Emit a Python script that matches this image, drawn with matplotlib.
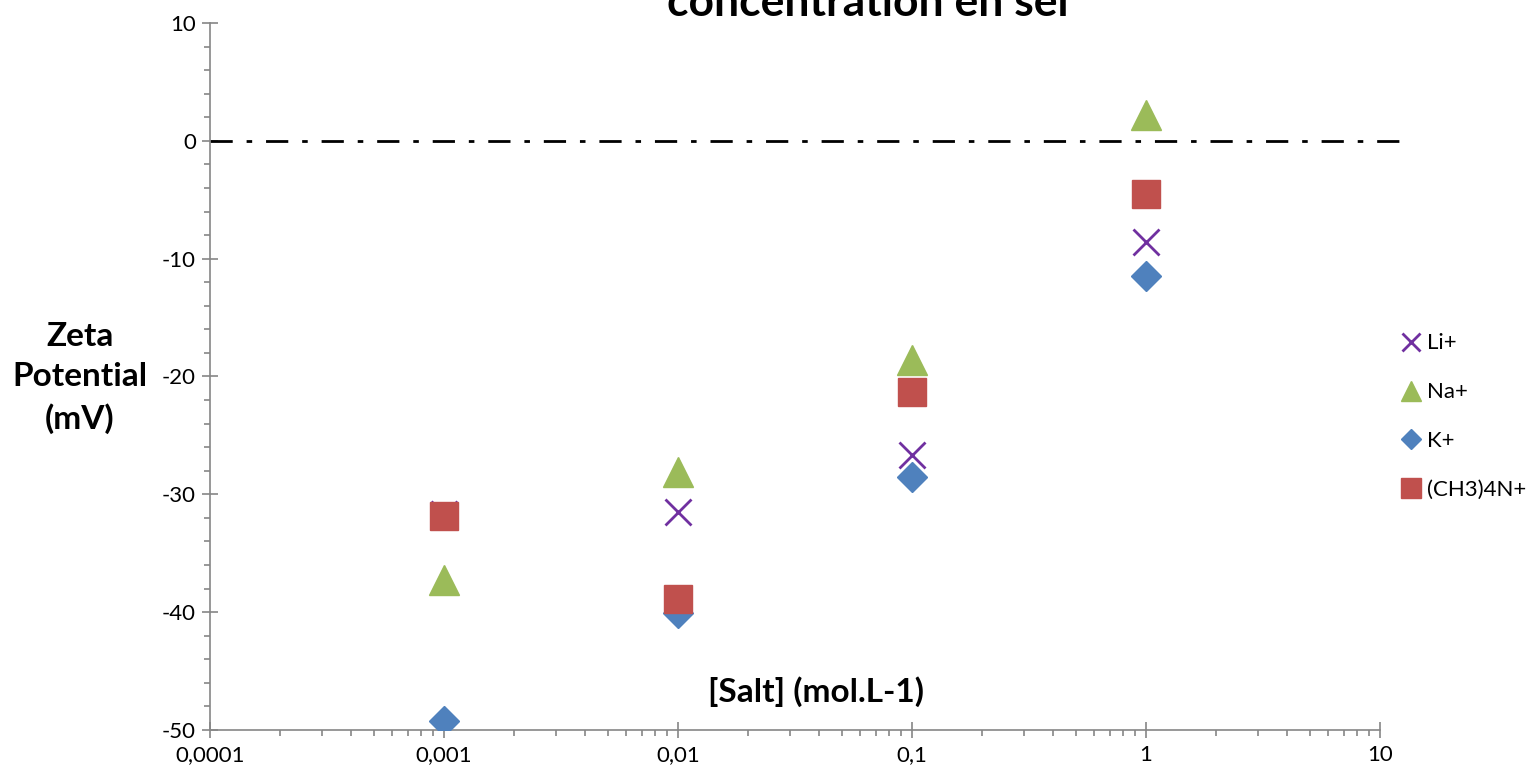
import matplotlib
matplotlib.use('Agg')
import matplotlib.pyplot as plt
from matplotlib.ticker import FixedLocator, LogLocator, NullFormatter, MultipleLocator

plt.rcParams['font.family'] = ['Lato', 'DejaVu Sans']

# salt concentrations (mol/L)
conc = [0.001, 0.01, 0.1, 1]

# zeta potential (mV) per cation
li = [-31.7, -31.5, -26.7, -8.6]
na = [-37.3, -28.1, -18.6, 2.2]
k = [-49.2, -40.1, -28.5, -11.5]
tma = [-31.8, -38.9, -21.3, -4.5]

x_ticks = [0.0001, 0.001, 0.01, 0.1, 1, 10]
x_labels = ['0,0001', '0,001', '0,01', '0,1', '1', '10']
y_ticks = [-50, -40, -30, -20, -10, 0, 10]

fig = plt.figure(figsize=(15.35, 7.75), dpi=100)
ax = fig.add_axes([210 / 1535, 1 - 730 / 775, 1170 / 1535, 707 / 775])

ax.plot(conc, li, 'x', color='#7030A0', markersize=19, markeredgewidth=2, label='Li+', linestyle='none', zorder=3)
ax.plot(conc, na, '^', color='#9BBB59', markersize=21, label='Na+', linestyle='none', zorder=3)
ax.plot(conc, k, 'D', color='#4F81BD', markersize=15, label='K+', linestyle='none', zorder=3)
ax.plot(conc, tma, 's', color='#C0504D', markersize=20, label='(CH3)4N+', linestyle='none', zorder=4)

# zero line
ax.plot([0.0001, 13], [0, 0], color='black', linewidth=2, dashes=(8, 5, 2, 5), clip_on=False, zorder=2)

ax.set_xscale('log')
ax.set_xlim(0.0001, 10)
ax.set_ylim(-50, 10)

ax.xaxis.set_major_locator(FixedLocator(x_ticks))
ax.set_xticklabels(x_labels)
ax.xaxis.set_minor_locator(LogLocator(base=10, subs=range(2, 10)))
ax.xaxis.set_minor_formatter(NullFormatter())
ax.set_yticks(y_ticks)
ax.set_yticklabels([str(v) for v in y_ticks])
ax.yaxis.set_minor_locator(MultipleLocator(2))

for s in ['top', 'right']:
    ax.spines[s].set_visible(False)
for s in ['left', 'bottom']:
    ax.spines[s].set_color('#868686')
    ax.spines[s].set_linewidth(1.2)

ax.tick_params(which='major', direction='inout', length=12, width=1.2, color='#868686', labelsize=16)
ax.tick_params(which='minor', direction='out', length=4.5, width=1.2, color='#868686')
ax.tick_params(axis='x', pad=5)
ax.tick_params(axis='y', pad=4)

ax.text(0.518, 0.055, '[Salt] (mol.L-1)', transform=ax.transAxes, fontsize=24,
        fontweight='bold', ha='center', va='center')
fig.text(80 / 1535, 1 - 378 / 775, 'Zeta\nPotential\n(mV)', fontsize=24, fontweight='bold',
         ha='center', va='center', linespacing=1.45)
fig.text(868 / 1535, 1 - 3 / 775, 'concentration en sel', fontsize=32, fontweight='bold',
         ha='center', va='center')

ax.legend(loc='center left', bbox_to_anchor=(1.0, 0.443), frameon=False, fontsize=16,
          handlelength=1.0, handletextpad=0.2, labelspacing=1.3, markerscale=0.7,
          borderaxespad=0.5)

fig.savefig('out.png', dpi=100)
